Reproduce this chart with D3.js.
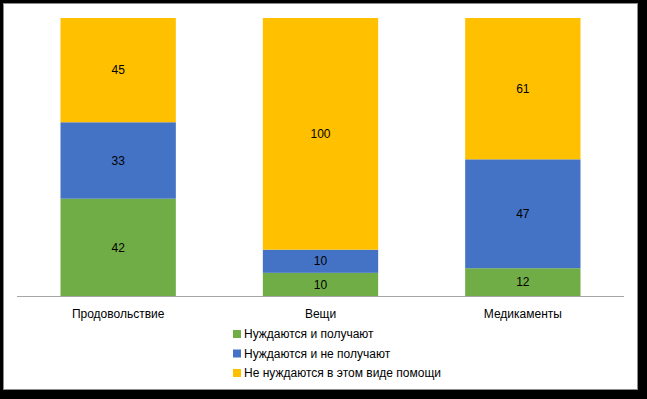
<!DOCTYPE html>
<html>
<head>
<meta charset="utf-8">
<script src="https://cdn.jsdelivr.net/npm/d3@7"></script>
<style>
  body { margin: 0; background: #000; }
  svg { display: block; }
  text { font-family: "Liberation Sans", Arial, sans-serif; font-size: 12px; fill: #000; }
</style>
</head>
<body>
<svg class="chart"></svg>
<script>
var width = 647, height = 399;

// данные
var categories = ["Продовольствие", "Вещи", "Медикаменты"];
var seriesNames = ["Нуждаются и получают", "Нуждаются и не получают", "Не нуждаются в этом виде помощи"];
var received = [42, 10, 12];
var notReceived = [33, 10, 47];
var notNeeded = [45, 100, 61];
var colors = ["#70AD47", "#4472C4", "#FFC000"];

var rows = categories.map(function(c, i) {
    return { cat: c, s0: received[i], s1: notReceived[i], s2: notNeeded[i] };
});

var svg = d3.select(".chart")
    .attr("width", width)
    .attr("height", height);

// рамка
svg.append("rect")
    .attr("x", 3.5).attr("y", 3.5)
    .attr("width", 634).attr("height", 386)
    .attr("fill", "#fff")
    .attr("stroke", "#8c8c8c");

var x = d3.scaleBand()
    .domain(categories)
    .range([17, 624])
    .paddingInner(0.43)
    .paddingOuter(0.215);

var y = d3.scaleLinear()
    .domain([0, 120])
    .range([296, 18]);

var stack = d3.stack().keys(["s0", "s1", "s2"]);
var layers = stack(rows);

var g = svg.selectAll("g.layer")
    .data(layers)
    .enter().append("g")
    .attr("class", "layer")
    .attr("fill", function(d, i) { return colors[i]; });

g.selectAll("rect")
    .data(function(d) { return d; })
    .enter().append("rect")
    .attr("x", function(d) { return x(d.data.cat); })
    .attr("y", function(d) { return y(d[1]); })
    .attr("width", x.bandwidth())
    .attr("height", function(d) { return y(d[0]) - y(d[1]); });

g.selectAll("text")
    .data(function(d) { return d; })
    .enter().append("text")
    .attr("x", function(d) { return x(d.data.cat) + x.bandwidth() / 2; })
    .attr("y", function(d) { return (y(d[0]) + y(d[1])) / 2; })
    .attr("dy", ".35em")
    .attr("text-anchor", "middle")
    .text(function(d) { return d[1] - d[0]; });

// ось X
var axis = svg.append("g")
    .attr("transform", "translate(0,296)")
    .call(d3.axisBottom(x).tickSize(0).tickPadding(13));
axis.select(".domain").attr("stroke", "#a6a6a6").attr("d", "M17,0.5H624");
axis.selectAll("text")
    .style("font-family", "'Liberation Sans', Arial, sans-serif")
    .style("font-size", "12px")
    .attr("fill", "#000");

// легенда
var legend = svg.selectAll("g.legend")
    .data(seriesNames)
    .enter().append("g")
    .attr("class", "legend")
    .attr("transform", function(d, i) { return "translate(233," + (334 + i * 19.5) + ")"; });

legend.append("rect")
    .attr("x", 0).attr("y", -4)
    .attr("width", 8).attr("height", 8)
    .attr("fill", function(d, i) { return colors[i]; });

legend.append("text")
    .attr("x", 11)
    .attr("dy", ".35em")
    .text(function(d) { return d; });
</script>
</body>
</html>
